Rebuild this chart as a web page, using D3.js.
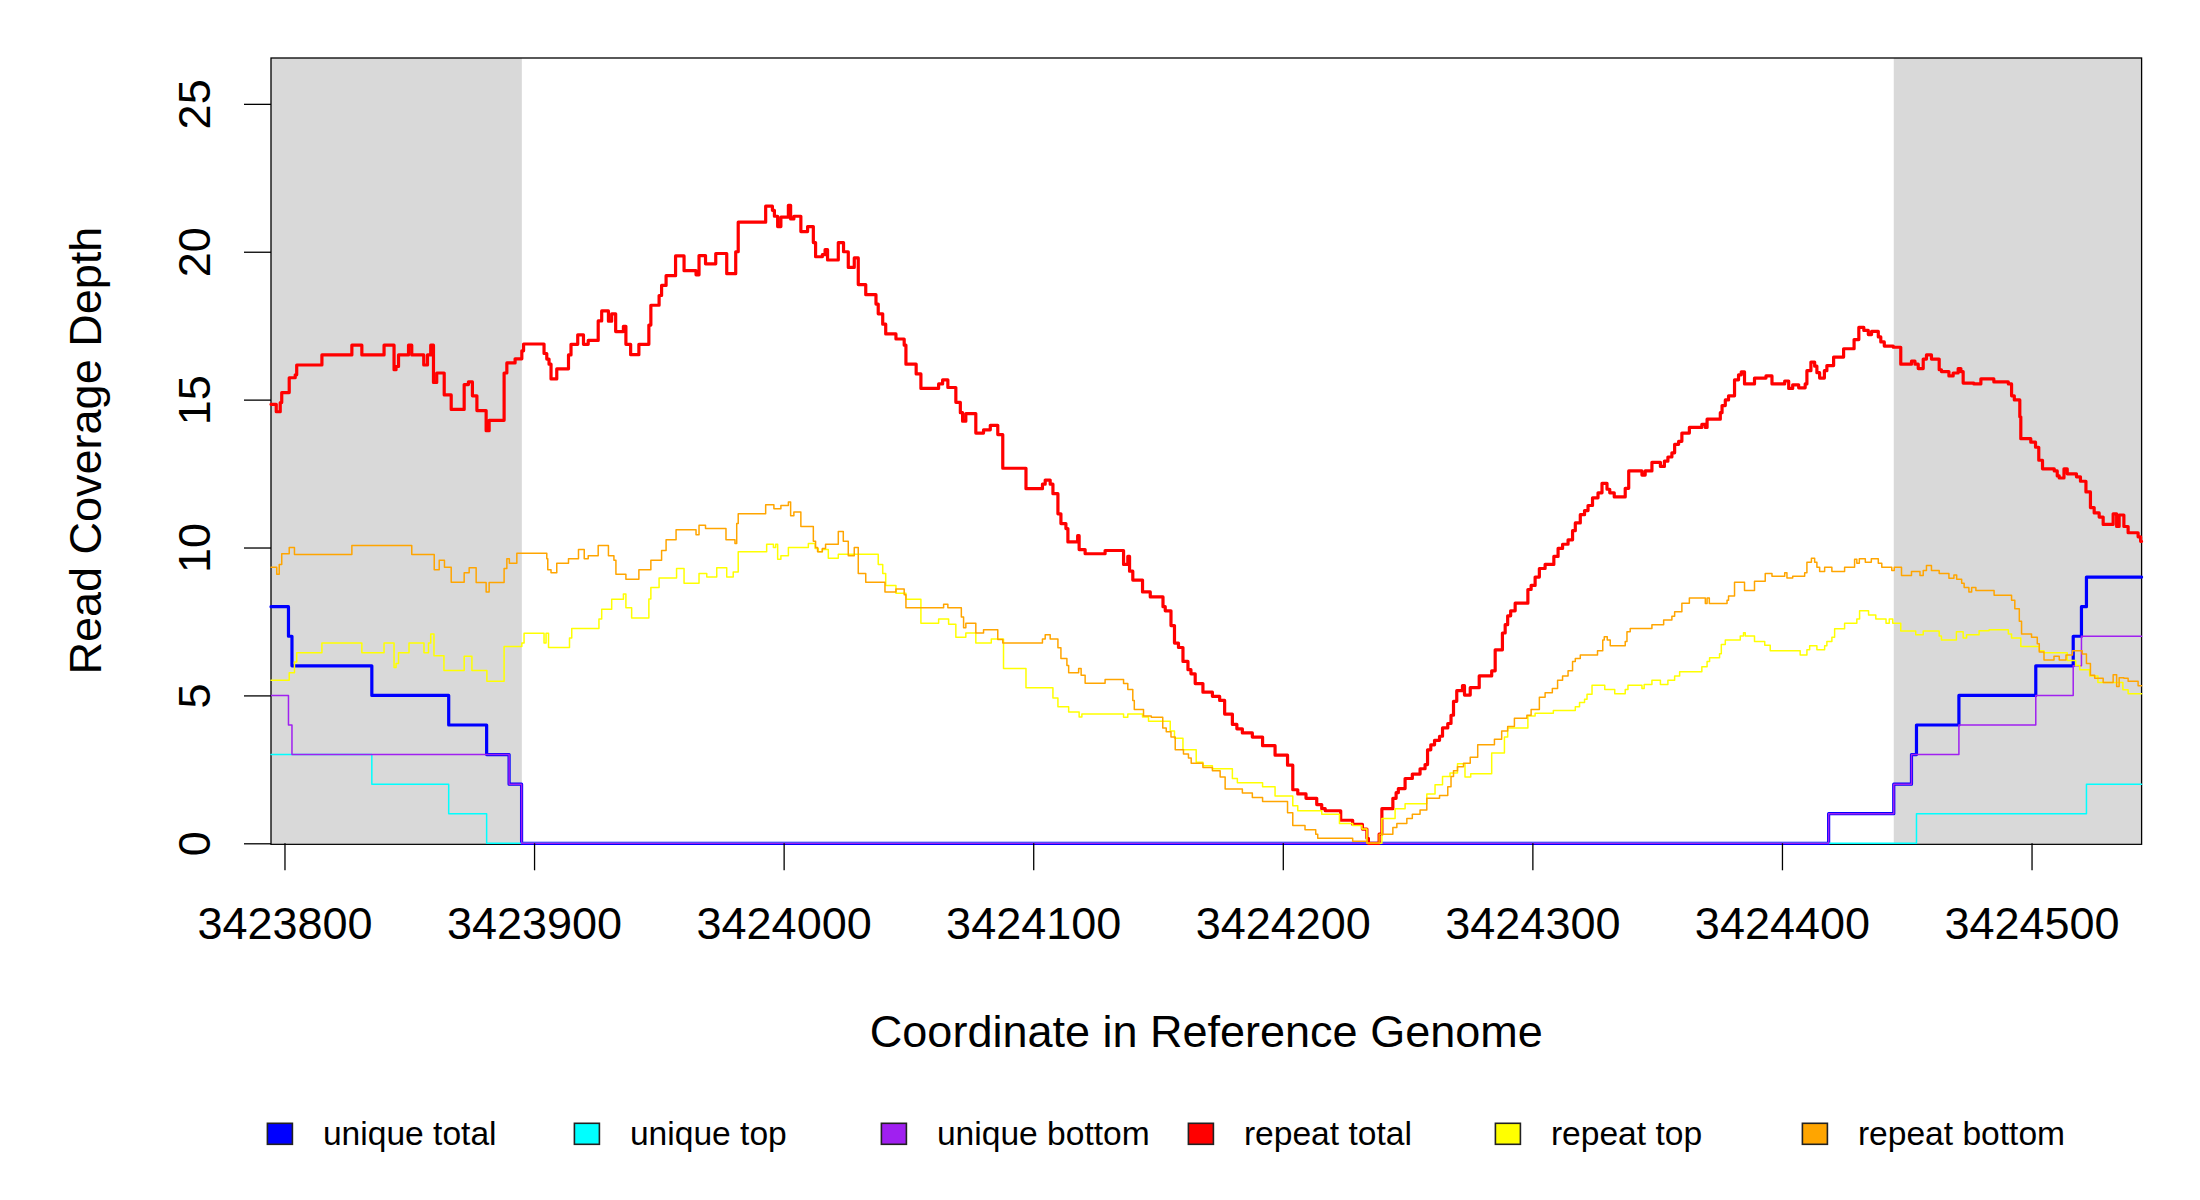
<!DOCTYPE html>
<html>
<head>
<meta charset="utf-8">
<script src="https://cdn.jsdelivr.net/npm/d3@7"></script>
<style>
  html, body { margin: 0; padding: 0; background: #ffffff; }
  svg { display: block; }
  text { font-family: "Liberation Sans", Arial, Helvetica, sans-serif; fill: #000; }
</style>
</head>
<body>
<svg id="chart" width="2200" height="1200"></svg>
<script>
// ---------------- data ----------------
const xDomain = [3423794.6, 3424544.1];
const yDomain = [0, 26.55];
const xTicks = [3423800, 3423900, 3424000, 3424100, 3424200, 3424300, 3424400, 3424500];
const yTicks = [0, 5, 10, 15, 20, 25];
const shadeRanges = [[3423794.6, 3423895.1], [3424444.8, 3424544.1]];
const legendLabels = ["unique total", "unique top", "unique bottom", "repeat total", "repeat top", "repeat bottom"];
const seriesColors = ["#0000FF", "#00FFFF", "#A020F0", "#FF0000", "#FFFF00", "#FFA500"];

// step series: [position, depth] (depth holds until next position)
const unique_total = [
  [3423794.6, 8], [3423801.6, 7], [3423803.0, 6], [3423835.0, 5], [3423865.8, 4], [3423881.0, 3],
  [3423890.0, 2], [3423895.0, 0], [3424418.7, 1], [3424444.8, 2], [3424451.9, 3], [3424453.9, 4],
  [3424470.9, 5], [3424501.7, 6], [3424516.7, 7], [3424520.0, 8], [3424522.0, 9]
];
const unique_top = [
  [3423794.6, 3], [3423835.0, 2], [3423865.8, 1], [3423881.0, 0], [3424453.9, 1], [3424522.0, 2]
];
const unique_bottom = [
  [3423794.6, 5], [3423801.6, 4], [3423803.0, 3], [3423890.0, 2], [3423895.0, 0], [3424418.7, 1],
  [3424444.8, 2], [3424451.9, 3], [3424470.9, 4], [3424501.7, 5], [3424516.7, 6], [3424520.0, 7]
];
const repeat_total = [
  [3423794.6, 14.84], [3423796.7, 14.59], [3423798.3, 14.9], [3423798.9, 15.24], [3423801.9, 15.74],
  [3423804.3, 15.84], [3423804.9, 16.17], [3423815.0, 16.51], [3423827.0, 16.84], [3423831.0, 16.51],
  [3423839.9, 16.84], [3423843.9, 16.01], [3423844.7, 16.12], [3423845.7, 16.51], [3423849.7, 16.84],
  [3423851.0, 16.51], [3423855.8, 16.17], [3423857.3, 16.51], [3423858.6, 16.84], [3423859.7, 15.58],
  [3423861.0, 15.9], [3423864.0, 15.16], [3423866.8, 14.67], [3423872.0, 15.51], [3423873.7, 15.6],
  [3423875.3, 15.13], [3423877.1, 14.63], [3423880.8, 13.95], [3423882.0, 14.3], [3423888.0, 15.9],
  [3423889.1, 16.24], [3423892.4, 16.38], [3423895.1, 16.65], [3423895.8, 16.88], [3423904.0, 16.56],
  [3423905.1, 16.37], [3423906.0, 16.2], [3423906.8, 15.7], [3423909.1, 16.04], [3423913.8, 16.51],
  [3423914.8, 16.87], [3423917.5, 17.19], [3423919.8, 16.87], [3423921.7, 17.0], [3423925.7, 17.66],
  [3423927.1, 18.0], [3423929.8, 17.65], [3423931.1, 17.9], [3423932.7, 17.3], [3423935.8, 17.48],
  [3423936.8, 16.87], [3423938.7, 16.52], [3423942.0, 16.87], [3423946.0, 17.52], [3423946.8, 18.19],
  [3423950.1, 18.52], [3423951.1, 18.86], [3423952.9, 19.19], [3423956.7, 19.86], [3423960.1, 19.36],
  [3423964.9, 19.22], [3423966.1, 19.87], [3423968.7, 19.59], [3423972.8, 19.94], [3423977.2, 19.26],
  [3423980.8, 20.0], [3423981.8, 21.0], [3423992.8, 21.54], [3423995.5, 21.4], [3423996.3, 21.2],
  [3423997.6, 20.85], [3423998.9, 21.17], [3424001.9, 21.57], [3424002.8, 21.11], [3424004.1, 21.2],
  [3424006.9, 20.68], [3424009.6, 20.85], [3424011.9, 20.31], [3424012.8, 19.83], [3424015.5, 19.9],
  [3424016.6, 20.07], [3424017.6, 19.72], [3424021.9, 20.31], [3424024.0, 20.0], [3424025.9, 19.47],
  [3424028.3, 19.79], [3424029.9, 18.89], [3424032.9, 18.55], [3424037.0, 18.23], [3424037.9, 17.9],
  [3424039.7, 17.55], [3424040.9, 17.22], [3424045.0, 17.05], [3424048.3, 16.84], [3424049.0, 16.2],
  [3424053.1, 15.87], [3424055.0, 15.38], [3424062.1, 15.53], [3424063.7, 15.67], [3424065.8, 15.41],
  [3424069.0, 14.91], [3424070.8, 14.56], [3424071.7, 14.27], [3424073.0, 14.53], [3424077.0, 13.87],
  [3424080.1, 13.98], [3424082.8, 14.13], [3424085.8, 13.82], [3424087.8, 12.68], [3424097.1, 11.99],
  [3424103.7, 12.14], [3424104.8, 12.28], [3424106.8, 12.14], [3424107.9, 11.82], [3424109.9, 11.14],
  [3424111.1, 10.81], [3424113.1, 10.64], [3424113.9, 10.19], [3424117.8, 10.4], [3424118.4, 9.93],
  [3424120.8, 9.79], [3424128.8, 9.9], [3424136.2, 9.43], [3424137.9, 9.7], [3424138.6, 9.2],
  [3424139.9, 8.9], [3424143.8, 8.5], [3424146.9, 8.33], [3424152.0, 8.0], [3424152.9, 7.86],
  [3424155.2, 7.36], [3424156.6, 6.77], [3424158.2, 6.62], [3424160.0, 6.15], [3424162.0, 5.87],
  [3424163.2, 5.73], [3424164.9, 5.4], [3424168.0, 5.11], [3424171.8, 4.97], [3424174.7, 4.83],
  [3424176.7, 4.37], [3424179.8, 4.02], [3424181.6, 3.87], [3424183.8, 3.73], [3424187.8, 3.59],
  [3424191.9, 3.3], [3424196.9, 2.98], [3424201.9, 2.64], [3424204.0, 1.81], [3424206.0, 1.67],
  [3424209.3, 1.52], [3424213.6, 1.31], [3424215.6, 1.17], [3424217.0, 1.1], [3424223.2, 0.78],
  [3424228.0, 0.64], [3424231.9, 0.48], [3424233.7, 0.17], [3424234.3, 0], [3424238.6, 0.31],
  [3424239.7, 1.17], [3424244.1, 1.52], [3424245.4, 1.71], [3424246.3, 1.85], [3424249.0, 2.19],
  [3424251.9, 2.34], [3424255.0, 2.52], [3424257.0, 2.66], [3424258.0, 3.16], [3424259.3, 3.33],
  [3424260.8, 3.48], [3424262.8, 3.62], [3424264.0, 3.9], [3424266.1, 4.05], [3424267.4, 4.33],
  [3424268.4, 4.8], [3424269.7, 5.16], [3424272.0, 5.33], [3424272.8, 5.01], [3424275.1, 5.26],
  [3424278.7, 5.66], [3424283.7, 5.83], [3424285.1, 6.54], [3424288.0, 7.11], [3424289.1, 7.39],
  [3424290.1, 7.69], [3424291.3, 7.86], [3424293.1, 8.12], [3424298.2, 8.58], [3424299.5, 8.72],
  [3424301.1, 9.0], [3424302.8, 9.29], [3424305.1, 9.43], [3424308.6, 9.7], [3424310.3, 9.97],
  [3424312.1, 10.11], [3424314.3, 10.26], [3424316.1, 10.57], [3424317.2, 10.83], [3424319.2, 11.11],
  [3424320.9, 11.25], [3424322.3, 11.42], [3424324.1, 11.68], [3424326.3, 11.85], [3424327.9, 12.17],
  [3424329.9, 11.97], [3424331.0, 11.85], [3424332.8, 11.71], [3424337.2, 12.0], [3424338.6, 12.59],
  [3424343.9, 12.45], [3424345.2, 12.59], [3424347.9, 12.88], [3424351.3, 12.74], [3424352.9, 12.92],
  [3424354.3, 13.06], [3424355.9, 13.2], [3424357.0, 13.49], [3424358.6, 13.59], [3424359.9, 13.87],
  [3424362.9, 14.06], [3424367.9, 14.16], [3424369.3, 14.06], [3424370.0, 14.34], [3424375.3, 14.56],
  [3424376.0, 14.8], [3424377.3, 14.99], [3424378.6, 15.13], [3424381.0, 15.67], [3424382.6, 15.84],
  [3424383.7, 15.94], [3424385.0, 15.53], [3424389.0, 15.73], [3424393.6, 15.8], [3424396.0, 15.53],
  [3424401.1, 15.63], [3424402.7, 15.38], [3424404.3, 15.5], [3424406.7, 15.4], [3424409.3, 15.53],
  [3424410.0, 15.98], [3424411.6, 16.27], [3424413.1, 16.13], [3424414.0, 15.91], [3424415.1, 15.73],
  [3424417.0, 15.98], [3424418.0, 16.15], [3424420.7, 16.44], [3424424.7, 16.72], [3424428.9, 17.03],
  [3424430.8, 17.44], [3424432.8, 17.34], [3424434.6, 17.2], [3424435.9, 17.31], [3424438.6, 17.12],
  [3424439.6, 16.95], [3424441.0, 16.81], [3424444.6, 16.77], [3424447.6, 16.2], [3424451.9, 16.3],
  [3424453.3, 16.2], [3424454.6, 16.05], [3424456.6, 16.37], [3424457.9, 16.51], [3424459.9, 16.37],
  [3424463.0, 16.01], [3424463.9, 15.95], [3424466.9, 15.8], [3424468.6, 15.9], [3424470.6, 16.05],
  [3424471.7, 15.95], [3424472.6, 15.56], [3424476.9, 15.53], [3424479.7, 15.7], [3424484.9, 15.6],
  [3424490.7, 15.53], [3424492.0, 15.13], [3424493.1, 14.99], [3424495.3, 14.42], [3424495.7, 13.68],
  [3424499.7, 13.56], [3424501.6, 13.39], [3424502.9, 12.95], [3424504.4, 12.66], [3424509.1, 12.59],
  [3424510.3, 12.42], [3424511.1, 12.35], [3424513.0, 12.66], [3424514.3, 12.49], [3424518.0, 12.39],
  [3424519.6, 12.24], [3424521.8, 11.88], [3424523.6, 11.35], [3424525.1, 11.17], [3424527.1, 11.03],
  [3424528.7, 10.78], [3424532.7, 11.14], [3424534.1, 10.71], [3424535.1, 11.1], [3424537.0, 10.71],
  [3424538.7, 10.5], [3424542.7, 10.36], [3424543.7, 10.21]
];
const repeat_top = [
  [3423794.6, 5.51], [3423801.9, 5.77], [3423804.0, 6.13], [3423804.9, 6.44], [3423815.0, 6.77],
  [3423831.0, 6.44], [3423839.9, 6.77], [3423843.9, 5.94], [3423844.7, 6.08], [3423845.7, 6.44],
  [3423849.9, 6.77], [3423855.9, 6.44], [3423857.7, 6.77], [3423858.6, 7.08], [3423859.9, 6.34],
  [3423863.9, 5.84], [3423872.0, 6.32], [3423875.1, 5.84], [3423881.1, 5.48], [3423888.0, 6.65],
  [3423895.1, 6.77], [3423896.0, 7.1], [3423904.0, 6.77], [3423904.8, 7.1], [3423905.8, 6.62],
  [3423914.2, 6.94], [3423915.1, 7.26], [3423926.0, 7.58], [3423927.1, 7.91], [3423931.1, 8.25],
  [3423935.8, 8.43], [3423936.8, 7.96], [3423939.1, 7.62], [3423946.0, 8.26], [3423946.8, 8.65],
  [3423950.1, 8.97], [3423957.1, 9.29], [3423960.1, 8.79], [3423966.1, 9.12], [3423969.2, 9.0],
  [3423973.2, 9.32], [3423977.2, 9.0], [3423979.8, 9.17], [3423981.8, 9.86], [3423993.2, 10.11],
  [3423995.9, 10.0], [3423996.8, 10.11], [3423997.6, 9.6], [3423998.9, 9.72], [3424001.9, 10.0],
  [3424009.9, 10.14], [3424012.6, 9.97], [3424013.9, 9.86], [3424015.5, 9.93], [3424017.9, 9.64],
  [3424021.9, 9.77], [3424037.9, 9.43], [3424039.7, 9.12], [3424040.9, 8.72], [3424045.0, 8.45],
  [3424049.0, 8.25], [3424055.0, 7.44], [3424062.1, 7.58], [3424066.1, 7.41], [3424069.0, 6.97],
  [3424073.0, 7.11], [3424077.0, 6.77], [3424083.2, 6.91], [3424088.1, 5.91], [3424097.1, 5.26],
  [3424107.9, 4.91], [3424109.9, 4.62], [3424114.2, 4.44], [3424118.4, 4.27], [3424119.5, 4.37],
  [3424136.2, 4.26], [3424137.9, 4.37], [3424143.8, 4.27], [3424146.2, 4.13], [3424154.9, 3.8],
  [3424156.6, 3.55], [3424160.0, 3.16], [3424165.3, 2.74], [3424168.0, 2.62], [3424171.8, 2.52],
  [3424179.8, 2.19], [3424181.8, 2.05], [3424191.9, 1.91], [3424196.9, 1.6], [3424204.0, 1.27],
  [3424206.0, 1.1], [3424215.6, 0.98], [3424222.7, 0.67], [3424228.0, 0.6], [3424231.7, 0.48],
  [3424233.7, 0], [3424239.7, 0.84], [3424245.0, 1.17], [3424249.0, 1.34], [3424257.7, 1.67],
  [3424261.0, 1.98], [3424264.0, 2.26], [3424267.0, 2.38], [3424270.0, 2.69], [3424273.0, 2.24],
  [3424275.3, 2.35], [3424283.7, 3.05], [3424288.8, 3.59], [3424290.1, 3.9], [3424298.2, 4.3],
  [3424301.1, 4.4], [3424308.4, 4.49], [3424317.2, 4.62], [3424318.9, 4.76], [3424320.9, 4.87],
  [3424321.9, 5.04], [3424323.9, 5.34], [3424329.0, 5.2], [3424333.0, 5.06], [3424337.2, 5.2],
  [3424338.3, 5.34], [3424343.9, 5.23], [3424344.8, 5.37], [3424347.9, 5.51], [3424351.3, 5.37],
  [3424354.3, 5.51], [3424357.0, 5.66], [3424359.0, 5.8], [3424367.9, 5.97], [3424370.0, 6.15],
  [3424371.0, 6.27], [3424375.0, 6.41], [3424375.7, 6.72], [3424377.3, 6.87], [3424383.3, 7.01],
  [3424384.6, 7.12], [3424385.3, 7.01], [3424389.0, 6.82], [3424393.1, 6.7], [3424395.3, 6.51],
  [3424407.3, 6.37], [3424410.0, 6.54], [3424411.1, 6.68], [3424414.0, 6.54], [3424417.1, 6.68],
  [3424418.0, 6.82], [3424420.0, 6.97], [3424421.1, 7.25], [3424425.1, 7.44], [3424430.0, 7.58],
  [3424431.1, 7.86], [3424434.7, 7.72], [3424437.6, 7.58], [3424441.7, 7.44], [3424443.0, 7.58],
  [3424444.4, 7.44], [3424447.6, 7.18], [3424453.6, 7.05], [3424456.6, 7.18], [3424463.0, 7.01],
  [3424463.9, 6.87], [3424469.9, 7.15], [3424472.6, 6.94], [3424474.0, 7.05], [3424479.0, 7.19],
  [3424483.0, 7.22], [3424490.7, 7.08], [3424492.0, 6.94], [3424495.7, 6.65], [3424503.1, 6.51],
  [3424505.0, 6.44], [3424514.3, 6.18], [3424517.7, 6.01], [3424519.3, 5.87], [3424523.3, 5.66],
  [3424526.6, 5.44], [3424536.6, 5.19], [3424538.7, 5.06]
];
const repeat_bottom = [
  [3423794.6, 9.33], [3423796.9, 9.1], [3423797.9, 9.43], [3423798.9, 9.79], [3423801.9, 10.0],
  [3423804.0, 9.76], [3423827.0, 10.07], [3423851.0, 9.76], [3423860.0, 9.25], [3423862.0, 9.57],
  [3423864.1, 9.33], [3423866.8, 8.83], [3423872.0, 9.15], [3423874.0, 9.32], [3423876.8, 8.82],
  [3423880.8, 8.5], [3423882.0, 8.82], [3423888.0, 9.29], [3423889.1, 9.62], [3423890.1, 9.47],
  [3423893.1, 9.81], [3423905.1, 9.62], [3423905.5, 9.25], [3423906.8, 9.15], [3423909.1, 9.47],
  [3423913.8, 9.62], [3423917.8, 9.93], [3423920.1, 9.62], [3423921.7, 9.72], [3423925.7, 10.07],
  [3423929.8, 9.72], [3423932.0, 9.57], [3423932.8, 9.1], [3423936.8, 8.93], [3423942.0, 9.25],
  [3423946.8, 9.57], [3423951.1, 9.9], [3423952.9, 10.26], [3423956.9, 10.6], [3423964.9, 10.43],
  [3423966.1, 10.75], [3423968.7, 10.64], [3423976.9, 10.26], [3423980.5, 10.14], [3423981.2, 10.81],
  [3423981.8, 11.14], [3423992.8, 11.45], [3423996.1, 11.31], [3423998.9, 11.42], [3424001.9, 11.54],
  [3424002.8, 11.07], [3424004.1, 11.2], [3424006.9, 10.71], [3424011.9, 10.21], [3424012.8, 10.0],
  [3424013.6, 9.86], [3424015.5, 9.97], [3424016.8, 10.11], [3424021.9, 10.54], [3424023.9, 10.21],
  [3424025.9, 9.72], [3424028.3, 10.0], [3424029.9, 9.12], [3424032.9, 8.83], [3424040.6, 8.5],
  [3424045.0, 8.6], [3424048.3, 8.4], [3424049.0, 7.96], [3424064.1, 8.08], [3424065.8, 7.96],
  [3424071.2, 7.65], [3424072.1, 7.29], [3424073.0, 7.44], [3424077.0, 7.11], [3424080.1, 7.22],
  [3424085.8, 6.89], [3424087.8, 6.77], [3424103.7, 6.91], [3424104.8, 7.05], [3424106.8, 6.91],
  [3424109.9, 6.61], [3424111.1, 6.25], [3424113.5, 6.01], [3424114.2, 5.77], [3424118.2, 5.91],
  [3424119.2, 5.68], [3424120.8, 5.41], [3424128.8, 5.54], [3424136.2, 5.4], [3424137.9, 5.2],
  [3424139.9, 4.83], [3424140.5, 4.52], [3424144.2, 4.3], [3424147.3, 4.26], [3424151.9, 3.9],
  [3424153.3, 3.77], [3424155.2, 3.59], [3424156.9, 3.16], [3424160.2, 3.02], [3424162.2, 2.88],
  [3424163.3, 2.71], [3424168.0, 2.56], [3424171.8, 2.45], [3424174.9, 2.24], [3424176.9, 1.84],
  [3424183.8, 1.7], [3424187.8, 1.55], [3424191.9, 1.41], [3424201.9, 1.03], [3424204.0, 0.6],
  [3424208.9, 0.46], [3424213.2, 0.31], [3424214.0, 0.17], [3424228.0, 0.07], [3424233.7, 0],
  [3424238.6, 0.31], [3424244.1, 0.53], [3424245.7, 0.67], [3424249.7, 0.84], [3424251.9, 0.98],
  [3424255.0, 1.13], [3424257.7, 1.52], [3424262.8, 1.62], [3424266.1, 1.91], [3424267.4, 2.26],
  [3424268.4, 2.45], [3424270.0, 2.59], [3424272.4, 2.71], [3424275.1, 2.91], [3424278.1, 3.33],
  [3424284.8, 3.52], [3424287.7, 3.8], [3424290.1, 3.95], [3424292.8, 4.23], [3424297.8, 4.33],
  [3424299.5, 4.52], [3424302.8, 4.94], [3424305.1, 5.09], [3424308.0, 5.23], [3424310.1, 5.51],
  [3424312.1, 5.66], [3424314.3, 5.83], [3424316.1, 6.15], [3424317.2, 6.25], [3424319.2, 6.37],
  [3424326.1, 6.51], [3424328.2, 6.87], [3424328.8, 6.98], [3424330.0, 6.87], [3424331.2, 6.68],
  [3424337.2, 6.82], [3424337.9, 7.15], [3424339.2, 7.26], [3424347.9, 7.39], [3424352.6, 7.55],
  [3424355.9, 7.68], [3424357.0, 7.83], [3424359.9, 8.12], [3424362.9, 8.29], [3424369.3, 8.11],
  [3424370.0, 8.29], [3424370.9, 8.11], [3424378.0, 8.22], [3424378.6, 8.36], [3424381.0, 8.83],
  [3424385.0, 8.55], [3424389.0, 8.86], [3424393.3, 9.12], [3424396.0, 9.03], [3424401.1, 9.15],
  [3424402.0, 8.97], [3424404.3, 9.03], [3424409.1, 9.15], [3424410.0, 9.5], [3424411.8, 9.64],
  [3424413.1, 9.5], [3424414.0, 9.33], [3424415.1, 9.19], [3424417.1, 9.33], [3424420.0, 9.19],
  [3424425.1, 9.33], [3424429.1, 9.6], [3424430.0, 9.47], [3424431.0, 9.62], [3424433.4, 9.5],
  [3424435.8, 9.62], [3424438.6, 9.47], [3424440.0, 9.33], [3424444.0, 9.22], [3424445.0, 9.33],
  [3424447.9, 9.05], [3424451.9, 9.19], [3424455.3, 9.05], [3424456.6, 9.22], [3424457.9, 9.39],
  [3424459.9, 9.22], [3424463.0, 9.12], [3424466.9, 8.96], [3424468.9, 9.07], [3424470.0, 8.93],
  [3424472.0, 8.79], [3424473.0, 8.65], [3424474.9, 8.5], [3424476.0, 8.65], [3424477.7, 8.55],
  [3424485.0, 8.39], [3424492.0, 8.22], [3424493.3, 7.93], [3424495.1, 7.51], [3424496.0, 7.08],
  [3424500.0, 6.97], [3424502.3, 6.75], [3424503.1, 6.47], [3424505.0, 6.2], [3424509.0, 6.32],
  [3424511.1, 6.2], [3424513.8, 6.37], [3424516.4, 6.51], [3424520.3, 6.4], [3424522.0, 6.08],
  [3424523.6, 5.68], [3424525.3, 5.58], [3424528.7, 5.44], [3424532.7, 5.7], [3424534.1, 5.3],
  [3424535.1, 5.6], [3424537.0, 5.58], [3424538.7, 5.48], [3424542.7, 5.33]
];

const seriesList = [unique_total, unique_top, unique_bottom, repeat_total, repeat_top, repeat_bottom];
const seriesWidths = [3.2, 1.5, 1.5, 3.2, 1.5, 1.5];

// ---------------- layout ----------------
const plotLeft = 271, plotRight = 2141.6, plotTop = 58, plotBottom = 843.3;
const svg = d3.select("#chart");
svg.append("rect").attr("width", 2200).attr("height", 1200).attr("fill", "#ffffff");

const x = d3.scaleLinear().domain(xDomain).range([plotLeft, plotRight]);
const y = d3.scaleLinear().domain(yDomain).range([plotBottom, plotTop]);

// shaded regions
svg.append("g").selectAll("rect").data(shadeRanges).join("rect")
  .attr("x", d => x(d[0])).attr("width", d => x(d[1]) - x(d[0]))
  .attr("y", plotTop).attr("height", plotBottom - plotTop)
  .attr("fill", "#D9D9D9");

// box
svg.append("rect")
  .attr("x", plotLeft).attr("y", plotTop)
  .attr("width", plotRight - plotLeft).attr("height", plotBottom - plotTop + 1)
  .attr("fill", "none").attr("stroke", "#000").attr("stroke-width", 1.3);

// lines
const line = d3.line().x(d => x(d[0])).y(d => y(d[1])).curve(d3.curveStepAfter);
const lineG = svg.append("g");
seriesList.forEach((s, i) => {
  const pts = s.concat([[xDomain[1], s[s.length - 1][1]]]);
  lineG.append("path")
    .attr("d", line(pts))
    .attr("fill", "none")
    .attr("stroke", seriesColors[i])
    .attr("stroke-width", seriesWidths[i])
    .attr("stroke-linejoin", "round")
    .attr("stroke-linecap", "round");
});

const FONT = '"Liberation Sans", Arial, Helvetica, sans-serif';

// x axis
const xAxis = svg.append("g")
  .attr("transform", `translate(0,${plotBottom})`)
  .call(d3.axisBottom(x).tickValues(xTicks).tickSize(27).tickFormat(d3.format("d")));
xAxis.select(".domain").remove();
xAxis.selectAll(".tick line").attr("stroke", "#000").attr("stroke-width", 1.3);
xAxis.selectAll(".tick text")
  .attr("y", 95.6).attr("dy", null)
  .style("font-size", "45px")
  .style("font-family", FONT)
  .attr("fill", "#000");

// y axis
const yAxis = svg.append("g")
  .attr("transform", `translate(${plotLeft},0)`)
  .call(d3.axisLeft(y).tickValues(yTicks).tickSize(27));
yAxis.select(".domain").remove();
yAxis.selectAll(".tick line").attr("stroke", "#000").attr("stroke-width", 1.3);
yAxis.selectAll(".tick text")
  .attr("x", 0).attr("y", -61).attr("dy", null)
  .attr("transform", "rotate(-90)")
  .attr("text-anchor", "middle")
  .style("font-size", "45px")
  .style("font-family", FONT)
  .attr("fill", "#000");

// axis titles
svg.append("text")
  .attr("x", (plotLeft + plotRight) / 2).attr("y", 1047)
  .attr("text-anchor", "middle")
  .style("font-size", "45px")
  .text("Coordinate in Reference Genome");
svg.append("text")
  .attr("transform", `translate(101,${(plotTop + plotBottom) / 2}) rotate(-90)`)
  .attr("text-anchor", "middle")
  .style("font-size", "45px")
  .text("Read Coverage Depth");

// legend
const legend = svg.append("g");
const items = legend.selectAll("g").data(legendLabels).join("g")
  .attr("transform", (d, i) => `translate(${267.4 + i * 307},0)`);
items.append("rect")
  .attr("x", 0).attr("y", 1123.3).attr("width", 25).attr("height", 21)
  .attr("fill", (d, i) => seriesColors[i])
  .attr("stroke", "#222").attr("stroke-width", 1.6);
items.append("text")
  .attr("x", 55.5).attr("y", 1144.5)
  .style("font-size", "33.6px")
  .text(d => d);
</script>
</body>
</html>
